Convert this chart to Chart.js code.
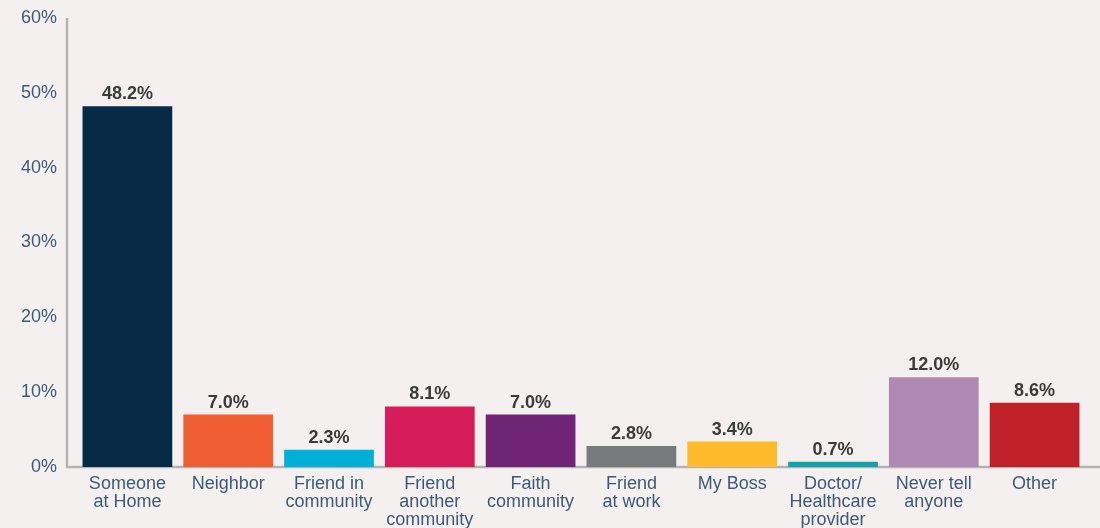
<!DOCTYPE html>
<html>
<head>
<meta charset="utf-8">
<script src="https://cdn.jsdelivr.net/npm/chart.js@4.4.1/dist/chart.umd.min.js"></script>
<style>
  html, body { margin: 0; padding: 0; background: #f4f0ef; }
  #wrap { width: 1100px; height: 528px; position: relative; }
</style>
</head>
<body>
<div id="wrap"><canvas id="chart"></canvas></div>
<script>
// Who people tell — share of respondents, by confidant.
const categories = [
  ["Someone", "at Home"],
  "Neighbor",
  ["Friend in", "community"],
  ["Friend", "another", "community"],
  ["Faith", "community"],
  ["Friend", "at work"],
  "My Boss",
  ["Doctor/", "Healthcare", "provider"],
  ["Never tell", "anyone"],
  "Other",
];
const shares = [48.2, 7.0, 2.3, 8.1, 7.0, 2.8, 3.4, 0.7, 12.0, 8.6];
const barColors = [
  "#072a47", "#f05d33", "#00b0d8", "#d71c5c", "#6f2573",
  "#787b7c", "#fdbb2c", "#15a2a6", "#af89b1", "#c02027",
];
const yTicks = [0, 10, 20, 30, 40, 50, 60];

const FONT = "'Liberation Sans', Arial, Helvetica, sans-serif";
const AXIS_GRAY = "#b3b3b3";
const TEXT_BLUE = "#3f5a78";

// Axis lines sit a little left of the first bar, and the baseline runs to the edge.
const axisLines = {
  id: "axisLines",
  beforeDatasetsDraw(chart) {
    const { ctx, chartArea } = chart;
    const x0 = chartArea.left - 10;
    ctx.save();
    ctx.strokeStyle = AXIS_GRAY;
    ctx.lineWidth = 2.5;
    ctx.beginPath();
    ctx.moveTo(x0, chartArea.top);
    ctx.lineTo(x0, chartArea.bottom);
    ctx.lineTo(chart.width, chartArea.bottom);
    ctx.stroke();
    ctx.restore();
  },
};

const valueLabels = {
  id: "valueLabels",
  afterDatasetsDraw(chart) {
    const { ctx } = chart;
    const meta = chart.getDatasetMeta(0);
    ctx.save();
    ctx.font = `bold 18px ${FONT}`;
    ctx.fillStyle = "#3b3b3b";
    ctx.textAlign = "center";
    ctx.textBaseline = "bottom";
    meta.data.forEach((bar, i) => {
      ctx.fillText(shares[i].toFixed(1) + "%", bar.x, bar.y - 3);
    });
    ctx.restore();
  },
};

new Chart(document.getElementById("chart"), {
  type: "bar",
  data: {
    labels: categories,
    datasets: [{
      data: shares,
      backgroundColor: barColors,
      borderWidth: 0,
      barPercentage: 0.89,
      categoryPercentage: 1,
    }],
  },
  options: {
    responsive: true,
    maintainAspectRatio: false,
    animation: false,
    layout: { padding: { top: 18, right: 15, bottom: 0, left: 0 } },
    plugins: { legend: { display: false }, tooltip: { enabled: false } },
    scales: {
      y: {
        min: 0,
        max: 60,
        afterBuildTicks(scale) { scale.ticks = yTicks.map((v) => ({ value: v })); },
        afterFit(scale) {
          scale.width = 77;
          scale.paddingTop = 0;
          scale.paddingBottom = 0;
        },
        grid: { display: false },
        border: { display: false },
        ticks: {
          padding: 12,
          color: TEXT_BLUE,
          font: { family: FONT, size: 18 },
          callback: (v) => v + "%",
        },
      },
      x: {
        afterFit(scale) { scale.height = 61; },
        grid: { display: false },
        border: { display: false },
        ticks: {
          padding: 0,
          autoSkip: false,
          maxRotation: 0,
          color: TEXT_BLUE,
          font: { family: FONT, size: 18, lineHeight: 1 },
        },
      },
    },
  },
  plugins: [axisLines, valueLabels],
});
</script>
</body>
</html>
